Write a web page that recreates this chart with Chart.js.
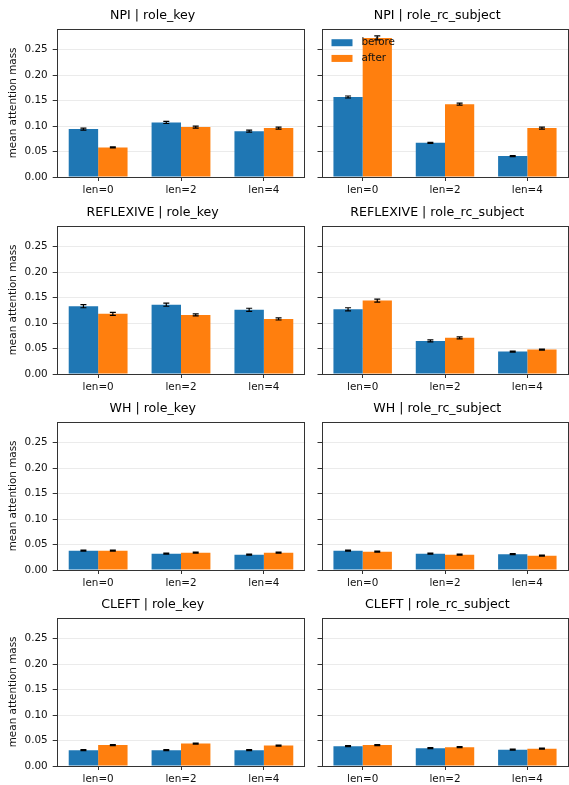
<!DOCTYPE html>
<html>
<head>
<meta charset="utf-8">
<script src="https://cdn.jsdelivr.net/npm/chart.js@4.4.1/dist/chart.umd.min.js"></script>
<style>
  body { margin: 0; background: #fff; }
  #wrap { position: relative; width: 569px; height: 785px; background: #fff; }
  canvas { position: absolute; }
</style>
</head>
<body>
<div id="wrap"></div>
<script>
const categories = ['len=0', 'len=2', 'len=4'];
const seriesNames = ['before', 'after'];
const yTicks = [0, 0.05, 0.10, 0.15, 0.20, 0.25];
const yMax = 0.291;

// mean attention mass per panel, before / after, with error half-widths
const npiKeyBefore = [0.094, 0.107, 0.090];
const npiKeyAfter = [0.058, 0.098, 0.096];
const npiKeyErrBefore = [0.002, 0.002, 0.002];
const npiKeyErrAfter = [0.001, 0.002, 0.002];

const npiRcBefore = [0.157, 0.067, 0.041];
const npiRcAfter = [0.273, 0.143, 0.096];
const npiRcErrBefore = [0.002, 0.001, 0.001];
const npiRcErrAfter = [0.004, 0.002, 0.002];

const reflKeyBefore = [0.133, 0.136, 0.126];
const reflKeyAfter = [0.118, 0.116, 0.108];
const reflKeyErrBefore = [0.003, 0.003, 0.003];
const reflKeyErrAfter = [0.003, 0.002, 0.002];

const reflRcBefore = [0.127, 0.065, 0.044];
const reflRcAfter = [0.144, 0.071, 0.048];
const reflRcErrBefore = [0.003, 0.002, 0.001];
const reflRcErrAfter = [0.003, 0.002, 0.001];

const whKeyBefore = [0.038, 0.032, 0.030];
const whKeyAfter = [0.038, 0.034, 0.034];
const whKeyErrBefore = [0.001, 0.001, 0.001];
const whKeyErrAfter = [0.001, 0.001, 0.001];

const whRcBefore = [0.038, 0.032, 0.031];
const whRcAfter = [0.036, 0.030, 0.028];
const whRcErrBefore = [0.001, 0.001, 0.001];
const whRcErrAfter = [0.001, 0.001, 0.001];

const cleftKeyBefore = [0.031, 0.031, 0.031];
const cleftKeyAfter = [0.041, 0.044, 0.040];
const cleftKeyErrBefore = [0.001, 0.001, 0.001];
const cleftKeyErrAfter = [0.001, 0.001, 0.001];

const cleftRcBefore = [0.039, 0.035, 0.032];
const cleftRcAfter = [0.041, 0.037, 0.034];
const cleftRcErrBefore = [0.001, 0.001, 0.001];
const cleftRcErrAfter = [0.001, 0.001, 0.001];

const colors = ['#1f77b4', '#ff7f0e'];

const panels = [
  { title: 'NPI | role_key', b: npiKeyBefore, a: npiKeyAfter, eb: npiKeyErrBefore, ea: npiKeyErrAfter },
  { title: 'NPI | role_rc_subject', b: npiRcBefore, a: npiRcAfter, eb: npiRcErrBefore, ea: npiRcErrAfter, legend: true },
  { title: 'REFLEXIVE | role_key', b: reflKeyBefore, a: reflKeyAfter, eb: reflKeyErrBefore, ea: reflKeyErrAfter },
  { title: 'REFLEXIVE | role_rc_subject', b: reflRcBefore, a: reflRcAfter, eb: reflRcErrBefore, ea: reflRcErrAfter },
  { title: 'WH | role_key', b: whKeyBefore, a: whKeyAfter, eb: whKeyErrBefore, ea: whKeyErrAfter },
  { title: 'WH | role_rc_subject', b: whRcBefore, a: whRcAfter, eb: whRcErrBefore, ea: whRcErrAfter },
  { title: 'CLEFT | role_key', b: cleftKeyBefore, a: cleftKeyAfter, eb: cleftKeyErrBefore, ea: cleftKeyErrAfter },
  { title: 'CLEFT | role_rc_subject', b: cleftRcBefore, a: cleftRcAfter, eb: cleftRcErrBefore, ea: cleftRcErrAfter }
];

Chart.defaults.font.family = '"DejaVu Sans", sans-serif';
Chart.defaults.color = '#111';

// error bars drawn at each bar's center from the y scale
const errorBars = {
  id: 'errorBars',
  afterDatasetsDraw(chart) {
    const ctx = chart.ctx;
    const y = chart.scales.y;
    chart.data.datasets.forEach((ds, i) => {
      chart.getDatasetMeta(i).data.forEach((bar, j) => {
        const v = ds.data[j], e = ds.errors[j];
        const top = y.getPixelForValue(v + e);
        const bot = y.getPixelForValue(v - e);
        ctx.save();
        ctx.strokeStyle = '#000';
        ctx.lineWidth = 1.2;
        ctx.beginPath();
        ctx.moveTo(bar.x, top); ctx.lineTo(bar.x, bot);
        ctx.moveTo(bar.x - 3, top); ctx.lineTo(bar.x + 3, top);
        ctx.moveTo(bar.x - 3, bot); ctx.lineTo(bar.x + 3, bot);
        ctx.stroke();
        ctx.restore();
      });
    });
  }
};

// four spines around the plot
const frame = {
  id: 'frame',
  afterDatasetsDraw(chart) {
    const { left, top, right, bottom } = chart.chartArea;
    const ctx = chart.ctx;
    ctx.save();
    ctx.strokeStyle = '#333';
    ctx.lineWidth = 1;
    ctx.strokeRect(Math.round(left) + 0.5, Math.round(top) + 0.5,
      Math.round(right) - Math.round(left) - 1, Math.round(bottom) - Math.round(top));
    ctx.restore();
  }
};

// legend inside the plot, upper left, no frame
const insideLegend = {
  id: 'insideLegend',
  afterDraw(chart, args, opts) {
    if (!opts.show) return;
    const ctx = chart.ctx;
    const x0 = chart.chartArea.left + 10;
    const y0 = chart.chartArea.top + 14;
    ctx.save();
    ctx.font = '10.4px "DejaVu Sans", sans-serif';
    ctx.textBaseline = 'middle';
    chart.data.datasets.forEach((ds, i) => {
      const yc = y0 + i * 15.7;
      ctx.fillStyle = ds.backgroundColor;
      ctx.fillRect(x0, yc - 3.5, 21, 7);
      ctx.fillStyle = '#111';
      ctx.fillText(ds.label, x0 + 30, yc);
    });
    ctx.restore();
  }
};

const wrap = document.getElementById('wrap');
const rowTops = [0, 197, 393, 589];

panels.forEach((p, k) => {
  const leftCol = k % 2 === 0;
  const row = Math.floor(k / 2);
  const canvas = document.createElement('canvas');
  const w = leftCol ? 306 : 263;
  const h = 197;
  canvas.width = w; canvas.height = h;
  canvas.style.left = (leftCol ? 0 : 306) + 'px';
  canvas.style.top = rowTops[row] + 'px';
  canvas.style.width = w + 'px';
  canvas.style.height = h + 'px';
  wrap.appendChild(canvas);

  new Chart(canvas, {
    type: 'bar',
    data: {
      labels: categories,
      datasets: [
        { label: seriesNames[0], data: p.b, errors: p.eb, backgroundColor: colors[0] },
        { label: seriesNames[1], data: p.a, errors: p.ea, backgroundColor: colors[1] }
      ]
    },
    options: {
      responsive: false,
      animation: false,
      devicePixelRatio: 1,
      layout: { padding: { left: 0, right: leftCol ? 0.7 : 0.5, top: 0, bottom: 0 } },
      datasets: { bar: { barPercentage: 1, categoryPercentage: 0.71, borderWidth: 0 } },
      plugins: {
        legend: { display: false },
        tooltip: { enabled: false },
        title: {
          display: true, text: p.title, color: '#000',
          font: { size: 12.6, weight: 'normal' },
          padding: { top: 8.6, bottom: 5 }
        },
        insideLegend: { show: !!p.legend }
      },
      scales: {
        x: {
          offset: true,
          border: { display: false },
          grid: { display: true, offset: false, drawOnChartArea: false, drawTicks: true, tickLength: 4, tickColor: '#333' },
          ticks: { font: { size: 10.4 }, padding: 3, maxRotation: 0 },
          afterFit: s => { s.height = 20; }
        },
        y: {
          min: 0, max: yMax,
          border: { display: false },
          afterBuildTicks: s => { s.ticks = yTicks.map(v => ({ value: v })); },
          afterFit: s => { s.width = leftCol ? 56.7 : 15.5; },
          grid: { color: '#ebebeb', tickColor: '#333', tickLength: 4, drawTicks: true },
          ticks: { font: { size: 10.4 }, padding: 5, callback: v => leftCol ? Number(v).toFixed(2) : '' },
          title: {
            display: leftCol, text: 'mean attention mass',
            font: { size: 10.4 }, padding: { top: 7, bottom: 0 }
          }
        }
      }
    },
    plugins: [errorBars, frame, insideLegend]
  });
});
</script>
</body>
</html>
